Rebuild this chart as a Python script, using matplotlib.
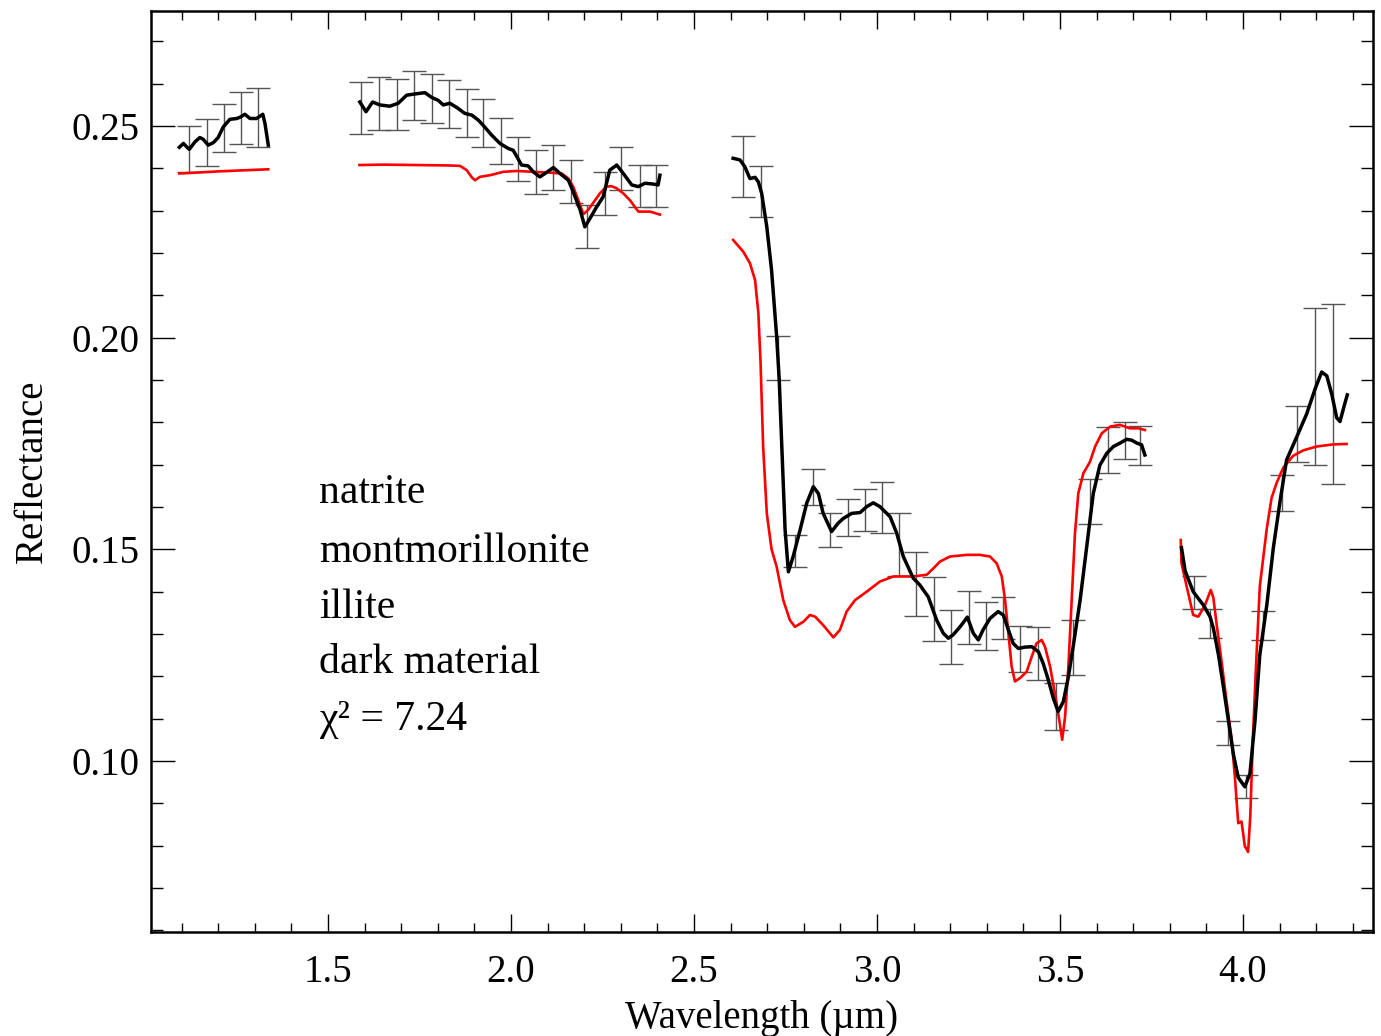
import matplotlib
matplotlib.use('Agg')
from matplotlib import pyplot as plt
from matplotlib.ticker import MultipleLocator, FormatStrFormatter

plt.rcParams['font.family'] = ['Liberation Serif', 'DejaVu Serif']

# measured spectrum (black), four pieces
wl_obs_1 = [1.094, 1.105, 1.121, 1.137, 1.150, 1.159, 1.173, 1.187, 1.200, 1.214, 1.232,
            1.251, 1.260, 1.273, 1.287, 1.305, 1.322, 1.328, 1.337]
refl_obs_1 = [0.2450, 0.2459, 0.2445, 0.2463, 0.2473, 0.2469, 0.2455, 0.2461, 0.2473, 0.2498, 0.2516,
              0.2518, 0.2521, 0.2528, 0.2518, 0.2518, 0.2528, 0.2506, 0.2455]

wl_obs_2 = [1.587, 1.604, 1.622, 1.642, 1.669, 1.692, 1.715, 1.738, 1.765, 1.783, 1.801, 1.815,
            1.833, 1.852, 1.874, 1.893, 1.911, 1.924, 1.947, 1.970, 1.993, 2.006, 2.016, 2.029,
            2.047, 2.061, 2.079, 2.093, 2.116, 2.134, 2.157, 2.170, 2.189, 2.202, 2.216, 2.234,
            2.252, 2.270, 2.289, 2.307, 2.330, 2.348, 2.366, 2.389, 2.402, 2.407]
refl_obs_2 = [0.2557, 0.2534, 0.2557, 0.2550, 0.2547, 0.2554, 0.2573, 0.2576, 0.2579, 0.2568, 0.2561, 0.2550,
              0.2554, 0.2544, 0.2530, 0.2526, 0.2514, 0.2502, 0.2479, 0.2459, 0.2447, 0.2443, 0.2428, 0.2408,
              0.2406, 0.2392, 0.2380, 0.2388, 0.2402, 0.2388, 0.2372, 0.2345, 0.2302, 0.2262, 0.2282, 0.2309,
              0.2333, 0.2396, 0.2408, 0.2388, 0.2361, 0.2357, 0.2365, 0.2363, 0.2361, 0.2384]

wl_obs_3 = [2.607, 2.626, 2.639, 2.653, 2.667, 2.676, 2.685, 2.699, 2.712, 2.726, 2.733, 2.740,
            2.749, 2.758, 2.771, 2.790, 2.808, 2.826, 2.840, 2.853, 2.876, 2.894, 2.908, 2.931,
            2.954, 2.972, 2.990, 3.008, 3.036, 3.054, 3.072, 3.099, 3.117, 3.140, 3.163, 3.181,
            3.195, 3.208, 3.227, 3.247, 3.263, 3.277, 3.290, 3.309, 3.331, 3.345, 3.359, 3.372,
            3.386, 3.404, 3.423, 3.441, 3.454, 3.468, 3.482, 3.495, 3.509, 3.523, 3.536, 3.555,
            3.573, 3.591, 3.609, 3.628, 3.646, 3.664, 3.682, 3.696, 3.710, 3.723, 3.732]
refl_obs_3 = [0.2424, 0.2420, 0.2404, 0.2376, 0.2379, 0.2368, 0.2341, 0.2262, 0.2160, 0.2002, 0.1900, 0.1743,
              0.1546, 0.1447, 0.1483, 0.1546, 0.1609, 0.1648, 0.1632, 0.1585, 0.1542, 0.1562, 0.1573, 0.1585,
              0.1587, 0.1601, 0.1610, 0.1601, 0.1577, 0.1538, 0.1483, 0.1432, 0.1416, 0.1388, 0.1333, 0.1302,
              0.1290, 0.1298, 0.1317, 0.1340, 0.1302, 0.1286, 0.1310, 0.1337, 0.1353, 0.1345, 0.1310, 0.1278,
              0.1266, 0.1269, 0.1270, 0.1258, 0.1231, 0.1192, 0.1148, 0.1117, 0.1140, 0.1199, 0.1270, 0.1380,
              0.1506, 0.1632, 0.1699, 0.1727, 0.1743, 0.1751, 0.1760, 0.1758, 0.1751, 0.1747, 0.1723]

wl_obs_4 = [3.832, 3.842, 3.864, 3.892, 3.910, 3.919, 3.933, 3.946, 3.960, 3.974, 3.987, 4.005,
            4.019, 4.033, 4.046, 4.065, 4.083, 4.101, 4.119, 4.147, 4.174, 4.197, 4.215, 4.229,
            4.243, 4.256, 4.265, 4.279, 4.285]
refl_obs_4 = [0.1504, 0.1449, 0.1400, 0.1368, 0.1341, 0.1314, 0.1251, 0.1178, 0.1097, 0.1015, 0.0961, 0.0939,
              0.0970, 0.1097, 0.1251, 0.1368, 0.1504, 0.1612, 0.1711, 0.1766, 0.1820, 0.1879, 0.1919, 0.1910,
              0.1865, 0.1811, 0.1802, 0.1847, 0.1865]

# error bars on the measured spectrum
err_wl = [1.120, 1.169, 1.216, 1.262, 1.308,
          1.589, 1.640, 1.688, 1.736, 1.783, 1.832, 1.879, 1.924, 1.972, 2.020, 2.068, 2.116,
          2.163, 2.207, 2.257, 2.302, 2.352, 2.396,
          2.635, 2.682, 2.730, 2.776, 2.826, 2.873, 2.922, 2.967, 3.014, 3.061, 3.108, 3.156,
          3.202, 3.251, 3.298, 3.345, 3.391, 3.441, 3.488, 3.535, 3.582, 3.630, 3.678, 3.720,
          3.867, 3.910, 3.960, 4.008, 4.054, 4.106, 4.148, 4.197, 4.245]
err_refl = [0.2446, 0.2461, 0.2495, 0.2519, 0.2520,
            0.2543, 0.2553, 0.2551, 0.2572, 0.2565, 0.2553, 0.2531, 0.2507, 0.2464, 0.2423, 0.2391, 0.2402,
            0.2370, 0.2263, 0.2341, 0.2400, 0.2359, 0.2359,
            0.2405, 0.2346, 0.1952, 0.1496, 0.1647, 0.1545, 0.1576, 0.1593, 0.1599, 0.1511, 0.1418, 0.1359,
            0.1293, 0.1339, 0.1319, 0.1338, 0.1265, 0.1254, 0.1129, 0.1268, 0.1613, 0.1735, 0.1757, 0.1745,
            0.1398, 0.1325, 0.1066, 0.0939, 0.1320, 0.1633, 0.1772, 0.1885, 0.1867]
err_sig = [0.0054, 0.0055, 0.0057, 0.0062, 0.0069,
           0.0062, 0.0062, 0.0060, 0.0058, 0.0057, 0.0057, 0.0056, 0.0056, 0.0054, 0.0052, 0.0052, 0.0053,
           0.0051, 0.0050, 0.0051, 0.0051, 0.0050, 0.0050,
           0.0072, 0.0060, 0.0052, 0.0038, 0.0042, 0.0040, 0.0044, 0.0049, 0.0061, 0.0074, 0.0075, 0.0075,
           0.0064, 0.0063, 0.0057, 0.0050, 0.0054, 0.0062, 0.0056, 0.0065, 0.0054, 0.0055, 0.0043, 0.0046,
           0.0038, 0.0034, 0.0029, 0.0027, 0.0035, 0.0042, 0.0066, 0.0185, 0.0213]

# model fit (red)
wl_mod_1 = [1.094, 1.200, 1.337]
refl_mod_1 = [0.2388, 0.2393, 0.2398]

wl_mod_2 = [1.586, 1.651, 1.742, 1.833, 1.861, 1.879, 1.893, 1.902, 1.915, 1.943, 1.979, 2.016,
            2.061, 2.107, 2.139, 2.157, 2.170, 2.184, 2.198, 2.211, 2.230, 2.243, 2.261, 2.275,
            2.289, 2.307, 2.325, 2.348, 2.361, 2.380, 2.407]
refl_mod_2 = [0.2408, 0.2409, 0.2408, 0.2407, 0.2406, 0.2396, 0.2379, 0.2372, 0.2380, 0.2384, 0.2392, 0.2394,
              0.2392, 0.2390, 0.2388, 0.2376, 0.2357, 0.2325, 0.2292, 0.2302, 0.2325, 0.2341, 0.2357, 0.2358,
              0.2353, 0.2341, 0.2325, 0.2298, 0.2298, 0.2298, 0.2291]

wl_mod_3 = [2.607, 2.635, 2.653, 2.667, 2.676, 2.682, 2.689, 2.699, 2.712, 2.726, 2.744, 2.762,
            2.776, 2.799, 2.817, 2.831, 2.853, 2.881, 2.899, 2.917, 2.940, 2.972, 3.008, 3.045,
            3.099, 3.136, 3.154, 3.172, 3.199, 3.245, 3.281, 3.309, 3.327, 3.341, 3.350, 3.359,
            3.368, 3.377, 3.391, 3.409, 3.423, 3.436, 3.450, 3.459, 3.473, 3.486, 3.498, 3.506,
            3.514, 3.523, 3.532, 3.541, 3.550, 3.564, 3.582, 3.596, 3.614, 3.637, 3.664, 3.691,
            3.714, 3.732]
refl_mod_3 = [0.2231, 0.2203, 0.2176, 0.2136, 0.2058, 0.1940, 0.1743, 0.1585, 0.1500, 0.1459, 0.1380, 0.1333,
              0.1317, 0.1329, 0.1345, 0.1341, 0.1321, 0.1292, 0.1310, 0.1353, 0.1380, 0.1400, 0.1424, 0.1436,
              0.1436, 0.1440, 0.1455, 0.1471, 0.1483, 0.1487, 0.1487, 0.1483, 0.1467, 0.1436, 0.1380, 0.1302,
              0.1223, 0.1188, 0.1196, 0.1211, 0.1247, 0.1278, 0.1286, 0.1270, 0.1223, 0.1160, 0.1097, 0.1050,
              0.1105, 0.1223, 0.1380, 0.1538, 0.1632, 0.1680, 0.1707, 0.1743, 0.1774, 0.1790, 0.1794, 0.1786,
              0.1786, 0.1782]

wl_mod_4 = [3.830, 3.832, 3.846, 3.864, 3.878, 3.896, 3.912, 3.919, 3.928, 3.942, 3.955, 3.969,
            3.978, 3.987, 3.996, 4.005, 4.014, 4.020, 4.027, 4.036, 4.046, 4.065, 4.078, 4.092,
            4.110, 4.137, 4.165, 4.201, 4.247, 4.283]
refl_mod_4 = [0.1522, 0.1467, 0.1413, 0.1345, 0.1341, 0.1368, 0.1404, 0.1386, 0.1323, 0.1232, 0.1142, 0.1052,
              0.0961, 0.0853, 0.0857, 0.0799, 0.0785, 0.0871, 0.1052, 0.1232, 0.1413, 0.1549, 0.1621, 0.1657,
              0.1693, 0.1721, 0.1734, 0.1743, 0.1748, 0.1749]

labels = ['natrite', 'montmorillonite', 'illite', 'dark material', 'χ² = 7.24']
label_y = [0.1609, 0.1471, 0.1337, 0.1207, 0.1073]

fig = plt.figure(figsize=(13.81, 10.36), dpi=100)
ax = fig.add_axes([0.1093, 0.1004, 0.8849, 0.889])

ax.errorbar(err_wl, err_refl, yerr=err_sig, fmt='none', ecolor='#555555',
            elinewidth=1.0, capsize=8.5, capthick=1.0, zorder=1)

for w, r in [(wl_mod_1, refl_mod_1), (wl_mod_2, refl_mod_2), (wl_mod_3, refl_mod_3), (wl_mod_4, refl_mod_4)]:
    ax.plot(w, r, color='red', lw=1.9, zorder=2, solid_joinstyle='round')
for w, r in [(wl_obs_1, refl_obs_1), (wl_obs_2, refl_obs_2), (wl_obs_3, refl_obs_3), (wl_obs_4, refl_obs_4)]:
    ax.plot(w, r, color='black', lw=2.5, zorder=3, solid_joinstyle='round')

for txt, yy in zip(labels, label_y):
    ax.text(1.476, yy, txt, fontsize=30, va='baseline', ha='left')

ax.set_xlim(1.0164, 4.3552)
ax.set_ylim(0.0596, 0.2772)
ax.xaxis.set_major_locator(MultipleLocator(0.5))
ax.xaxis.set_minor_locator(MultipleLocator(0.1))
ax.yaxis.set_major_locator(MultipleLocator(0.05))
ax.yaxis.set_minor_locator(MultipleLocator(0.01))
ax.xaxis.set_major_formatter(FormatStrFormatter('%.1f'))
ax.yaxis.set_major_formatter(FormatStrFormatter('%.2f'))

ax.tick_params(which='both', direction='in', top=True, right=True, width=1.0, labelsize=28)
ax.xaxis.set_tick_params(which='major', length=13, pad=16)
ax.xaxis.set_tick_params(which='minor', length=6.5)
ax.yaxis.set_tick_params(which='major', length=17, pad=8)
ax.yaxis.set_tick_params(which='minor', length=8.6)
for s in ax.spines.values():
    s.set_linewidth(1.8)

ax.set_xlabel('Wavelength (µm)', fontsize=28, labelpad=6)
ax.set_ylabel('Reflectance', fontsize=28, labelpad=15)

fig.savefig('out.png', dpi=100)
